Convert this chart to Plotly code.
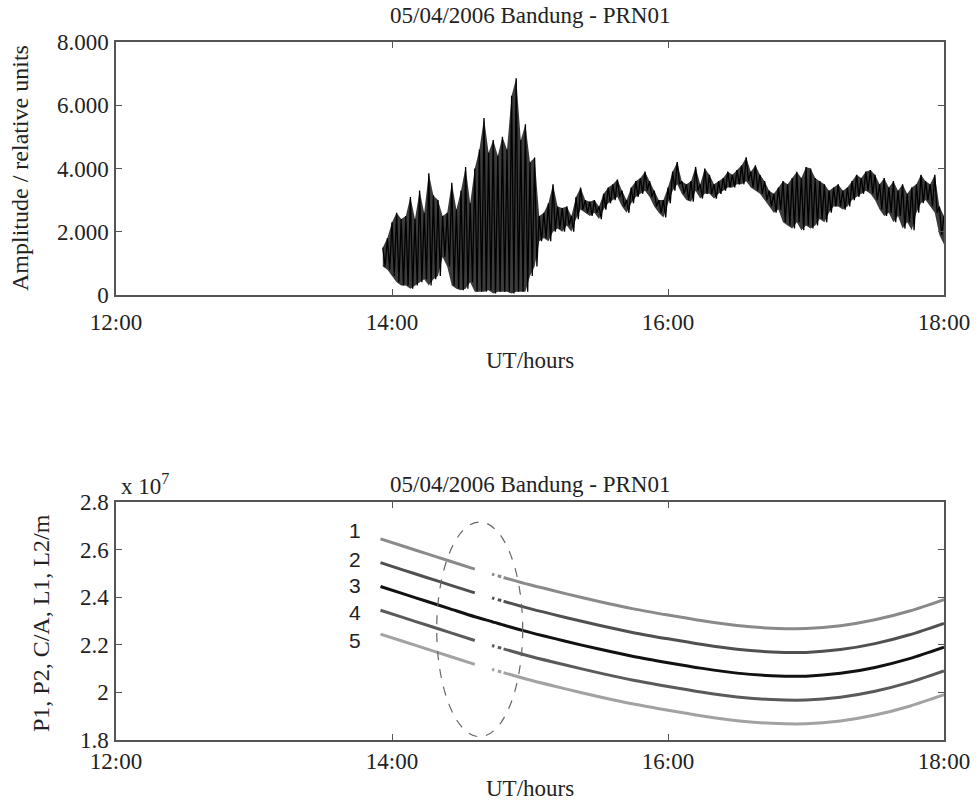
import plotly.graph_objects as go

# ---------------- Top panel: amplitude envelope ----------------
# minutes after 12:00, sampled every 2 minutes
amp_min = list(range(116, 361, 2))
amp_hi = [1.5, 1.8, 2.3, 2.6, 2.4, 2.5, 3.1, 2.4, 3.3, 2.6,
          3.85, 3.15, 3.0, 2.5, 2.6, 3.55, 2.7, 3.3, 4.05, 2.9,
          4.0, 4.6, 5.6, 4.5, 4.9, 4.4, 5.0, 4.6, 6.3, 6.85,
          4.9, 5.4, 4.2, 4.35, 2.5, 2.6, 2.9, 3.5, 2.8, 2.75,
          2.8, 2.5, 3.1, 3.4, 3.0, 2.95, 3.0, 2.8, 3.2, 3.4,
          3.5, 3.65, 3.3, 3.0, 3.4, 3.6, 3.7, 3.9, 3.6, 3.3,
          3.0, 3.0, 3.4, 3.9, 4.2, 3.6, 3.5, 3.6, 4.05, 3.5,
          4.0, 3.8, 3.5, 3.6, 3.7, 3.9, 3.8, 3.95, 4.1, 4.35,
          3.9, 4.1, 3.8, 3.6, 3.3, 3.2, 3.4, 3.6, 3.5, 3.7,
          3.9, 3.7, 4.05, 4.0, 3.7, 3.6, 3.5, 3.3, 3.4, 3.5,
          3.3, 3.4, 3.6, 3.8, 3.7, 3.9, 3.95, 3.8, 3.5, 3.7,
          3.4, 3.6, 3.3, 3.5, 3.2, 3.4, 3.5, 3.8, 3.6, 3.5,
          3.8, 2.8, 2.5]
amp_lo = [0.9, 0.8, 0.6, 0.4, 0.3, 0.3, 0.2, 0.3, 0.4, 0.5,
          0.3, 0.5, 0.6, 1.2, 0.9, 0.3, 0.2, 0.15, 0.2, 0.4,
          0.1, 0.1, 0.1, 0.15, 0.05, 0.1, 0.1, 0.1, 0.05, 0.1,
          0.1, 0.1, 0.6, 0.9, 1.7, 1.8, 1.7, 2.0, 2.1, 2.0,
          2.2, 2.0, 2.4, 2.7, 2.6, 2.5, 2.6, 2.4, 2.7, 2.9,
          3.0, 3.1, 2.8, 2.6, 2.9, 3.1, 3.2, 3.3, 3.1, 2.8,
          2.6, 2.45, 2.9, 3.3, 3.5, 3.2, 3.0, 2.95, 3.3, 3.05,
          3.2, 3.2, 3.05, 3.2, 3.3, 3.4, 3.4, 3.5, 3.5, 3.6,
          3.4, 3.3, 3.2, 3.0, 2.8, 2.6, 2.7, 2.3, 2.2, 2.1,
          2.3, 2.05, 2.2, 2.1, 2.2, 2.4, 2.3, 2.6, 2.8, 2.8,
          2.7, 2.8, 3.0, 3.1, 3.2, 3.3, 3.2, 3.0, 2.7, 2.5,
          2.6, 2.3, 2.5, 2.1, 2.3, 2.05, 2.6, 2.9, 3.0, 2.8,
          2.6, 1.9, 1.6]

# ---------------- Bottom panel: pseudorange / phase curves ----------------
obs_min = [115, 125, 135, 145, 156, None, 163.5, 164.5, None, 166, 167.5, None,
           168.5, 180, 195, 210, 225, 240, 255, 270, 285, 300, 315, 330, 345, 360]
c3_min = [115, 125, 135, 145, 156, 163.5, 164.5, 166, 167.5, 168.5,
          180, 195, 210, 225, 240, 255, 270, 285, 300, 315, 330, 345, 360]
s1 = [2.645, 2.614, 2.583, 2.552, 2.518, None, 2.497, 2.494, None, 2.490, 2.486, None,
      2.483, 2.452, 2.416, 2.382, 2.351, 2.325, 2.301, 2.281, 2.270, 2.268, 2.280, 2.305, 2.342, 2.390]
s2 = [2.545, 2.514, 2.483, 2.452, 2.418, None, 2.397, 2.394, None, 2.390, 2.386, None,
      2.383, 2.352, 2.316, 2.282, 2.251, 2.225, 2.201, 2.181, 2.170, 2.168, 2.180, 2.205, 2.242, 2.290]
s3 = [2.445, 2.414, 2.383, 2.352, 2.318, 2.297, 2.294, 2.290, 2.286, 2.283,
      2.252, 2.216, 2.182, 2.151, 2.125, 2.101, 2.081, 2.070, 2.068, 2.080, 2.105, 2.142, 2.190]
s4 = [2.345, 2.314, 2.283, 2.252, 2.218, None, 2.197, 2.194, None, 2.190, 2.186, None,
      2.183, 2.152, 2.116, 2.082, 2.051, 2.025, 2.001, 1.981, 1.970, 1.968, 1.980, 2.005, 2.042, 2.090]
s5 = [2.245, 2.214, 2.183, 2.152, 2.118, None, 2.097, 2.094, None, 2.090, 2.086, None,
      2.083, 2.052, 2.016, 1.982, 1.951, 1.925, 1.901, 1.881, 1.870, 1.868, 1.880, 1.905, 1.942, 1.990]
series_labels = ["1", "2", "3", "4", "5"]

x_tickvals = [12, 14, 16, 18]
x_ticktext = ["12:00", "14:00", "16:00", "18:00"]
top_tickvals = [0, 2, 4, 6, 8]
top_ticktext = ["0", "2.000", "4.000", "6.000", "8.000"]
bot_tickvals = [1.8, 2.0, 2.2, 2.4, 2.6, 2.8]
bot_ticktext = ["1.8", "2", "2.2", "2.4", "2.6", "2.8"]
title_text = "05/04/2006 Bandung - PRN01"


def to_h(m):
    return None if m is None else 12 + m / 60.0


amp_h = [to_h(m) for m in amp_min]
# zig-zag between upper and lower envelope
zx, zy = [], []
for m, h, l in zip(amp_min, amp_hi, amp_lo):
    zx += [to_h(m), to_h(m + 1)]
    zy += [h, l]

W, H = 978, 806


def px(x):
    return x / W


def py(y):
    return (H - y) / H


SERIF = "Liberation Serif"
AX = "#555555"

fig = go.Figure()
# shaded envelope band
fig.add_trace(go.Scatter(x=amp_h, y=amp_lo, mode="lines", line=dict(width=0, color="rgba(0,0,0,0)"),
                         xaxis="x", yaxis="y", showlegend=False, hoverinfo="skip"))
fig.add_trace(go.Scatter(x=amp_h, y=amp_hi, mode="lines", line=dict(width=0, color="rgba(0,0,0,0)"),
                         fill="tonexty", fillcolor="rgba(10,10,10,0.8)",
                         xaxis="x", yaxis="y", showlegend=False, hoverinfo="skip"))
fig.add_trace(go.Scatter(x=zx, y=zy, mode="lines", line=dict(color="#000000", width=1.3),
                         xaxis="x", yaxis="y", showlegend=False, hoverinfo="skip"))

cols = ["#8a8a8a", "#505050", "#111111", "#5a5a5a", "#a2a2a2"]
for s, c in zip([s1, s2, s3, s4, s5], cols):
    tm = c3_min if s is s3 else obs_min
    fig.add_trace(go.Scatter(x=[to_h(m) for m in tm], y=s, mode="lines",
                             line=dict(color=c, width=3, shape="spline", smoothing=0.8),
                             connectgaps=False, xaxis="x2", yaxis="y2", showlegend=False))

xd = [px(116), px(944)]
axis_common = dict(showline=True, linecolor=AX, linewidth=1.5, mirror="ticks",
                   ticks="inside", ticklen=6, tickcolor=AX, tickwidth=1,
                   showgrid=False, zeroline=False, automargin=False,
                   ticklabeloverflow="allow",
                   tickfont=dict(family=SERIF, size=23, color="#222"))
fig.update_layout(
    width=W, height=H, margin=dict(l=0, r=0, t=0, b=0, autoexpand=False),
    paper_bgcolor="white", plot_bgcolor="white",
    xaxis=dict(domain=xd, range=[12, 18], tickvals=x_tickvals, ticktext=x_ticktext,
               anchor="y", ticklabelstandoff=6, **axis_common),
    yaxis=dict(domain=[py(295), py(42)], range=[0, 8],
               tickvals=top_tickvals, ticktext=top_ticktext, anchor="x",
               ticklabelstandoff=1, **axis_common),
    xaxis2=dict(domain=xd, range=[12, 18], tickvals=x_tickvals, ticktext=x_ticktext,
                anchor="y2", ticklabelstandoff=0, **axis_common),
    yaxis2=dict(domain=[py(740), py(502)], range=[1.8, 2.8],
                tickvals=bot_tickvals, ticktext=bot_ticktext, anchor="x2",
                ticklabelstandoff=1, **axis_common),
)

fig.add_shape(type="circle", xref="x2", yref="y2", x0=14.324, x1=14.947, y0=1.814, y1=2.716,
              line=dict(color="#666666", width=1.2, dash="dash"))

ann = []


def pa(x, y, text, size=23, angle=0, xanchor="center", family=SERIF):
    ann.append(dict(x=px(x), y=py(y), xref="paper", yref="paper", text=text,
                    showarrow=False, textangle=angle, xanchor=xanchor, yanchor="middle",
                    font=dict(family=family, size=size, color="#222")))


pa(530, 16, title_text)
pa(530, 484, title_text)
pa(530, 360, "UT/hours")
pa(530, 788, "UT/hours")
pa(20, 168, "Amplitude / relative units", size=24, angle=-90)
pa(41, 623, "P1, P2, C/A, L1, L2/m", size=24, angle=-90)
pa(119, 484, "x 10<sup>7</sup>", xanchor="left")
for lab, yp in zip(series_labels, [530, 559, 585, 612, 640]):
    pa(355, yp, lab, size=21, family="Liberation Sans")
fig.update_layout(annotations=ann)

fig.write_html("out.html", config={"displayModeBar": False},
               post_script="document.body.style.margin='0';document.body.style.overflow='hidden';")
